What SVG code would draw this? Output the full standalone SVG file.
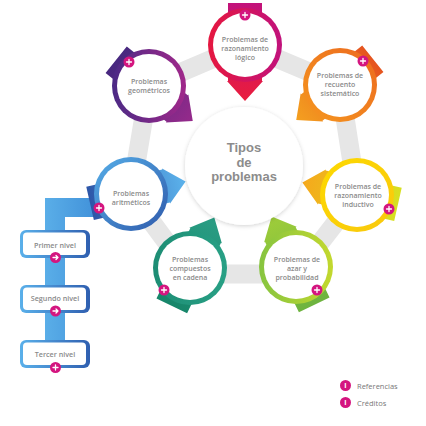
<svg xmlns="http://www.w3.org/2000/svg" width="426" height="426" viewBox="0 0 426 426">
<defs>
<style>
.nt{font-family:"Open Sans","Liberation Sans",sans-serif;font-size:7px;font-weight:600;fill:#8a8a8a;text-anchor:middle}
.ct{font-family:"Liberation Sans",Arial,sans-serif;font-size:13px;font-weight:700;fill:#8c8c8c;text-anchor:middle}
.bt{font-family:"Open Sans","Liberation Sans",sans-serif;font-size:7.2px;font-weight:600;fill:#8a8a8a;text-anchor:middle}
.lt{font-family:"Open Sans","Liberation Sans",sans-serif;font-size:7.5px;fill:#777}
.it{font-family:"Open Sans","Liberation Sans",sans-serif;font-size:7.5px;font-weight:700;fill:#fff;text-anchor:middle}
.badge{fill:#d4157f}
.ic{stroke:#fff;stroke-width:1.3;fill:none;stroke-linecap:round;stroke-linejoin:round}
.inner{fill:#fff}
.band{fill:none;stroke:#e6e6e6;stroke-width:19;stroke-linejoin:miter}
</style>
<filter id="sh" x="-20%" y="-20%" width="140%" height="140%"><feDropShadow dx="0" dy="1" stdDeviation="2" flood-color="#000" flood-opacity="0.18"/></filter>
<path id="arr" d="M-42,-17H36V-18L56,0L36,18V17H-42Z"/>
<g id="plus"><circle r="5.5" class="badge"/><path class="ic" d="M-2.5,0H2.5M0,-2.5V2.5"/></g>
<g id="arrow"><circle r="5.5" class="badge"/><path class="ic" d="M-2.5,0H2.5M0.5,-2L2.5,0L0.5,2"/></g>
<linearGradient id="a1" gradientUnits="userSpaceOnUse" x1="-42" y1="0" x2="56" y2="0"><stop offset="0" stop-color="#c2127b"/><stop offset="1" stop-color="#e91c3d"/></linearGradient>
<linearGradient id="a2" gradientUnits="userSpaceOnUse" x1="-42" y1="0" x2="56" y2="0"><stop offset="0" stop-color="#e5541f"/><stop offset="1" stop-color="#f4a020"/></linearGradient>
<linearGradient id="a3" gradientUnits="userSpaceOnUse" x1="-42" y1="0" x2="56" y2="0"><stop offset="0" stop-color="#d7e021"/><stop offset="1" stop-color="#f6a81c"/></linearGradient>
<linearGradient id="a4" gradientUnits="userSpaceOnUse" x1="-42" y1="0" x2="56" y2="0"><stop offset="0" stop-color="#6db33f"/><stop offset="1" stop-color="#9fcd3a"/></linearGradient>
<linearGradient id="a5" gradientUnits="userSpaceOnUse" x1="-42" y1="0" x2="56" y2="0"><stop offset="0" stop-color="#17866a"/><stop offset="1" stop-color="#2a9d84"/></linearGradient>
<linearGradient id="a6" gradientUnits="userSpaceOnUse" x1="-42" y1="0" x2="56" y2="0"><stop offset="0" stop-color="#2d56a8"/><stop offset="1" stop-color="#5cb3ec"/></linearGradient>
<linearGradient id="a7" gradientUnits="userSpaceOnUse" x1="-42" y1="0" x2="56" y2="0"><stop offset="0" stop-color="#47287f"/><stop offset="1" stop-color="#962a8b"/></linearGradient>
<linearGradient id="r1" x1="0" y1="0" x2="1" y2="0"><stop offset="0" stop-color="#e5173f"/><stop offset="1" stop-color="#c1127c"/></linearGradient>
<linearGradient id="r2" x1="0" y1="1" x2="1" y2="0"><stop offset="0" stop-color="#f5961f"/><stop offset="1" stop-color="#ec6a1f"/></linearGradient>
<linearGradient id="r3" x1="0" y1="0" x2="1" y2="1"><stop offset="0" stop-color="#fdd900"/><stop offset="1" stop-color="#f9c80e"/></linearGradient>
<linearGradient id="r4" x1="0" y1="0" x2="1" y2="0"><stop offset="0" stop-color="#86c440"/><stop offset="1" stop-color="#c3d82e"/></linearGradient>
<linearGradient id="r5" x1="0" y1="0" x2="1" y2="0"><stop offset="0" stop-color="#1d8d74"/><stop offset="1" stop-color="#28a085"/></linearGradient>
<linearGradient id="r6" x1="0" y1="0" x2="1" y2="1"><stop offset="0" stop-color="#56aee8"/><stop offset="1" stop-color="#2f5aab"/></linearGradient>
<linearGradient id="r7" x1="0" y1="0" x2="1" y2="0"><stop offset="0" stop-color="#4b2a85"/><stop offset="1" stop-color="#a0288a"/></linearGradient>
<linearGradient id="bx" x1="0" y1="0" x2="1" y2="0"><stop offset="0" stop-color="#5ab0ea"/><stop offset="1" stop-color="#2f5fb0"/></linearGradient>
<linearGradient id="bar" x1="0" y1="0" x2="1" y2="0"><stop offset="0" stop-color="#5aaee8"/><stop offset="1" stop-color="#3f8fd8"/></linearGradient>
</defs>

<g id="connectors">
<polygon class="band" points="245,45 340,85 357,195 296,274 190,274 131,194 149,86"/>
<path d="M45,198H100V217H65V368H45Z" fill="url(#bar)"/>
</g>

<g id="n1" transform="translate(245,45)">
<g transform="rotate(90)"><use href="#arr" fill="url(#a1)"/></g>
<circle r="37" fill="url(#r1)"/><circle r="32" class="inner"/>
<text class="nt" y="-3.5"><tspan x="0">Problemas de</tspan><tspan x="0" dy="9">razonamiento</tspan><tspan x="0" dy="9">lógico</tspan></text>
<use href="#plus" x="0" y="-30"/>
</g>

<g id="n2" transform="translate(340,85)">
<g transform="rotate(141.4)"><use href="#arr" fill="url(#a2)"/></g>
<circle r="37" fill="url(#r2)"/><circle r="32" class="inner"/>
<text class="nt" y="-7.5"><tspan x="0">Problemas de</tspan><tspan x="0" dy="9">recuento</tspan><tspan x="0" dy="9">sistemático</tspan></text>
<use href="#plus" x="23" y="-24"/>
</g>

<g id="n3" transform="translate(357,195)">
<g transform="rotate(192.8)"><use href="#arr" fill="url(#a3)"/></g>
<circle r="37" fill="url(#r3)"/><circle r="32" class="inner"/>
<text class="nt" y="-6.5"><tspan x="1">Problemas de</tspan><tspan x="1" dy="9">razonamiento</tspan><tspan x="1" dy="9">inductivo</tspan></text>
<use href="#plus" x="32" y="14"/>
</g>

<g id="n4" transform="translate(296,267)">
<g transform="rotate(-115.7)"><use href="#arr" fill="url(#a4)"/></g>
<circle r="37" fill="url(#r4)"/><circle r="32" class="inner"/>
<text class="nt" y="-5.5"><tspan x="1">Problemas de</tspan><tspan x="1" dy="9">azar y</tspan><tspan x="1" dy="9">probabilidad</tspan></text>
<use href="#plus" x="21" y="23"/>
</g>

<g id="n5" transform="translate(190,268)">
<g transform="rotate(-64.3)"><use href="#arr" fill="url(#a5)"/></g>
<circle r="37" fill="url(#r5)"/><circle r="32" class="inner"/>
<text class="nt" y="-6.5"><tspan x="0">Problemas</tspan><tspan x="0" dy="9">compuestos</tspan><tspan x="0" dy="9">en cadena</tspan></text>
<use href="#plus" x="-26" y="22"/>
</g>

<g id="n6" transform="translate(131,194)">
<g transform="rotate(-12.9)"><use href="#arr" fill="url(#a6)"/></g>
<circle r="37" fill="url(#r6)"/><circle r="32" class="inner"/>
<text class="nt" y="1.5"><tspan x="0">Problemas</tspan><tspan x="0" dy="9">aritméticos</tspan></text>
<use href="#plus" x="-32" y="14"/>
</g>

<g id="n7" transform="translate(149,86)">
<g transform="rotate(38.6)"><use href="#arr" fill="url(#a7)"/></g>
<circle r="37" fill="url(#r7)"/><circle r="32" class="inner"/>
<text class="nt" y="-2.5"><tspan x="0">Problemas</tspan><tspan x="0" dy="9">geométricos</tspan></text>
<use href="#plus" x="-20" y="-24"/>
</g>

<g id="center">
<circle cx="244" cy="166" r="59" fill="#fff" filter="url(#sh)"/>
<text class="ct" y="152"><tspan x="244">Tipos</tspan><tspan x="244" dy="14.6">de</tspan><tspan x="244" dy="14.6">problemas</tspan></text>
</g>

<g id="b1">
<rect x="20" y="230" width="70" height="28" rx="6" fill="url(#bx)"/>
<rect x="23" y="232.5" width="63" height="22.5" rx="4" fill="#fff"/>
<text class="bt" x="55" y="247.5">Primer nivel</text>
<use href="#arrow" x="55.5" y="257.5"/>
</g>
<g id="b2">
<rect x="20" y="285" width="70" height="28" rx="6" fill="url(#bx)"/>
<rect x="23" y="287.5" width="63" height="22.5" rx="4" fill="#fff"/>
<text class="bt" x="55" y="301">Segundo nivel</text>
<use href="#arrow" x="55.5" y="311"/>
</g>
<g id="b3">
<rect x="20" y="340" width="70" height="28" rx="6" fill="url(#bx)"/>
<rect x="23" y="342.5" width="63" height="22.5" rx="4" fill="#fff"/>
<text class="bt" x="55" y="357">Tercer nivel</text>
<use href="#plus" x="55.5" y="367.5"/>
</g>

<g id="legend">
<circle cx="345.5" cy="385.5" r="5.5" class="badge"/><text class="it" x="345.5" y="388.3">i</text>
<text class="lt" x="357" y="388.5">Referencias</text>
<circle cx="345.5" cy="402.5" r="5.5" class="badge"/><text class="it" x="345.5" y="405.3">i</text>
<text class="lt" x="357" y="405.5">Créditos</text>
</g>
</svg>
